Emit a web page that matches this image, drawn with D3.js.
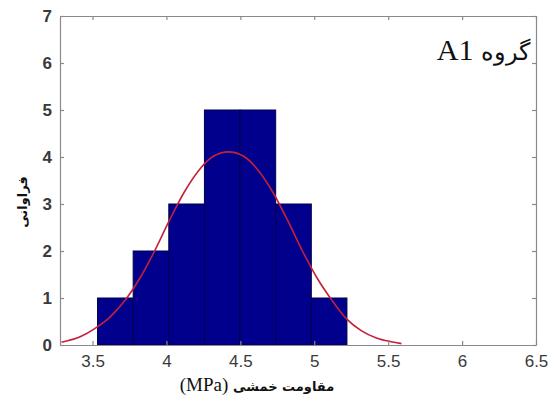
<!DOCTYPE html>
<html>
<head>
<meta charset="utf-8">
<script src="https://cdn.jsdelivr.net/npm/d3@7"></script>
<style>
  body { margin: 0; background: #fff; }
  svg { display: block; }
</style>
</head>
<body>
<script>
// histogram counts per bin (bin edges in MPa)
const binEdges = [3.534, 3.775, 4.016, 4.257, 4.498, 4.739, 4.980, 5.221]
const counts = [1, 2, 3, 5, 5, 3, 1]

// fitted curve
const curveX = [3.29, 3.42, 3.52, 3.62, 3.72, 3.82, 3.92, 4.02, 4.12, 4.22, 4.32, 4.42,
                4.52, 4.62, 4.72, 4.82, 4.92, 5.02, 5.12, 5.22, 5.32, 5.42, 5.52, 5.59]
const curveY = [0.06, 0.18, 0.36, 0.6, 0.95, 1.42, 2.0, 2.65, 3.25, 3.72, 4.02, 4.11,
                4.02, 3.72, 3.25, 2.65, 2.0, 1.42, 0.95, 0.55, 0.3, 0.15, 0.07, 0.03]

const xTicks = [3.5, 4, 4.5, 5, 5.5, 6, 6.5]
const yTicks = [0, 1, 2, 3, 4, 5, 6, 7]

const width = 555
const height = 398
const margin = {left: 60, right: 18, top: 16, bottom: 53}

const x = d3.scaleLinear()
  .domain([3.28, 6.5])
  .range([margin.left, width - margin.right - 1])

const y = d3.scaleLinear()
  .domain([0, 7])
  .range([height - margin.bottom, margin.top])

const svg = d3.select('body').append('svg')
  .attr('width', width)
  .attr('height', height)

const axisColor = '#8a8a8a'
const labelColor = '#3a3a3a'

// bars
const bins = counts.map((c, i) => ({x0: binEdges[i], x1: binEdges[i + 1], n: c}))
svg.append('g')
  .selectAll('rect')
  .data(bins)
  .enter().append('rect')
  .attr('x', d => x(d.x0))
  .attr('y', d => y(d.n))
  .attr('width', d => x(d.x1) - x(d.x0))
  .attr('height', d => y(0) - y(d.n))
  .attr('fill', '#00008c')
  .attr('stroke', '#000048')
  .attr('stroke-width', 1)

// fitted curve
const line = d3.line()
  .x(d => x(d[0]))
  .y(d => y(d[1]))
  .curve(d3.curveMonotoneX)

svg.append('path')
  .datum(curveX.map((v, i) => [v, curveY[i]]))
  .attr('d', line)
  .attr('fill', 'none')
  .attr('stroke', '#c4203a')
  .attr('stroke-width', 1.6)

// axes (box with inward ticks on all sides)
const fmt = d => String(d)
const xAxis = d3.axisBottom(x).tickValues(xTicks).tickFormat(fmt).tickSizeInner(-4).tickSizeOuter(0).tickPadding(10)
const yAxis = d3.axisLeft(y).tickValues(yTicks).tickFormat(fmt).tickSizeInner(-4).tickSizeOuter(0).tickPadding(8)

const gx = svg.append('g')
  .attr('transform', `translate(0,${y(0)})`)
  .call(xAxis)
const gy = svg.append('g')
  .attr('transform', `translate(${margin.left},0)`)
  .call(yAxis)

svg.append('g')
  .attr('transform', `translate(0,${y(7)})`)
  .call(d3.axisTop(x).tickValues(xTicks).tickSizeInner(-4).tickSizeOuter(0).tickFormat(''))
svg.append('g')
  .attr('transform', `translate(${x(6.5)},0)`)
  .call(d3.axisRight(y).tickValues(yTicks).tickSizeInner(-4).tickSizeOuter(0).tickFormat(''))

svg.selectAll('.domain, .tick line')
  .attr('stroke', axisColor)
  .attr('stroke-width', 1.2)

svg.selectAll('.tick text')
  .attr('fill', labelColor)
  .style('font-family', 'Liberation Sans, Arial, sans-serif')
  .style('font-size', '17px')

gy.selectAll('.tick text').style('font-weight', 'bold')

// axis titles
const xLabel = svg.append('text')
  .attr('x', 257)
  .attr('y', 391)
  .attr('text-anchor', 'middle')
  .attr('fill', '#111')
xLabel.append('tspan')
  .style('font-family', 'Liberation Serif, Times New Roman, serif')
  .style('font-size', '19px')
  .text('(MPa) ')
xLabel.append('tspan')
  .style('font-family', 'DejaVu Sans, sans-serif')
  .style('font-size', '13px')
  .style('font-weight', 'bold')
  .text('مقاومت خمشی')

svg.append('text')
  .attr('transform', 'translate(27,202) rotate(-90)')
  .attr('text-anchor', 'middle')
  .attr('fill', '#111')
  .style('font-family', 'DejaVu Sans, sans-serif')
  .style('font-size', '13px')
  .style('font-weight', 'bold')
  .text('فراوانی')

// group title
const title = svg.append('text')
  .attr('x', 530)
  .attr('y', 60)
  .attr('text-anchor', 'end')
  .attr('fill', '#111')
title.append('tspan')
  .style('font-family', 'Liberation Serif, Times New Roman, serif')
  .style('font-size', '30px')
  .text('A1 ')
title.append('tspan')
  .style('font-family', 'DejaVu Serif, serif')
  .style('font-size', '24px')
  .text('گروه')
</script>
</body>
</html>
